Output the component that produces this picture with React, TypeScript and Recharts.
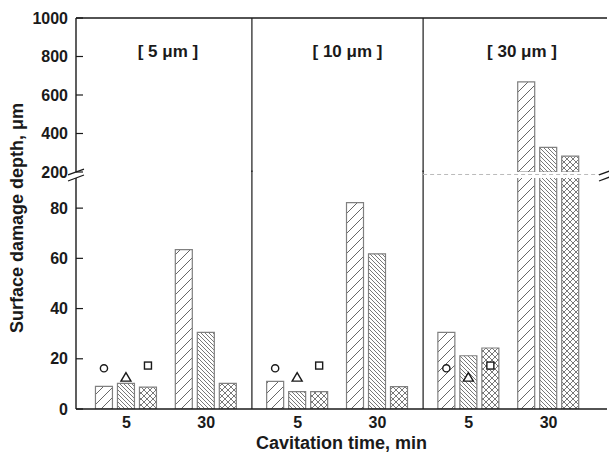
import { ComposedChart, Bar, XAxis, YAxis, ReferenceLine, ReferenceArea } from "recharts";

const panels = ["[ 5 μm ]", "[ 10 μm ]", "[ 30 μm ]"];
const times = [5, 30];

// surface damage depth (μm) per panel: [5 min, 30 min]
const hatchA = [[9, 63.5], [11, 82.2], [30.5, 668]];
const hatchB = [[10.2, 30.5], [6.9, 61.8], [21.2, 328]];
const hatchC = [[8.7, 10.2], [6.9, 8.9], [24.3, 282]];

// open symbols, 5 min only
const circleMark = [16.2, 16.2, 16.2];
const triangleMark = [12.5, 12.5, 12.5];
const squareMark = [17.3, 17.3, 17.3];

const lowTicks = [0, 20, 40, 60, 80];
const highTicks = [200, 400, 600, 800, 1000];

const LOW_MAX = 92;
const HIGH_MIN = 200;
const HIGH_MAX = 1000;

const PANEL_STEP = 2.144;
const X_MIN = -0.631;
const X_MAX = 2 * PANEL_STEP + 1.731;
const DIV1 = (1 + PANEL_STEP) / 2;
const DIV2 = PANEL_STEP + DIV1;
const panelBounds = [[X_MIN, DIV1], [DIV1, DIV2], [DIV2, X_MAX]];
const titleShift = [4, 10, 7];

const INK = "#1a1a1a";
const FONT = "'Liberation Sans', Arial, sans-serif";

const rows = panels.flatMap((_, p) =>
  times.map((t, g) => ({
    pos: p * PANEL_STEP + g,
    time: t,
    a: hatchA[p][g],
    b: hatchB[p][g],
    c: hatchC[p][g],
    ma: g === 0 ? circleMark[p] : null,
    mb: g === 0 ? triangleMark[p] : null,
    mc: g === 0 ? squareMark[p] : null,
  }))
);
const highRows = rows.map((r) => ({
  pos: r.pos,
  a: r.a >= HIGH_MIN ? r.a : null,
  b: r.b >= HIGH_MIN ? r.b : null,
  c: r.c >= HIGH_MIN ? r.c : null,
}));
const positions = rows.map((r) => r.pos);

function Patterns({ id }: { id: string }) {
  return (
    <defs>
      <pattern id={`${id}-a`} patternUnits="userSpaceOnUse" width={10} height={10}>
        <path d="M0,10 L10,0 M-2,2 L2,-2 M8,12 L12,8" stroke="#555" strokeWidth={0.9} />
      </pattern>
      <pattern id={`${id}-b`} patternUnits="userSpaceOnUse" width={4} height={4}>
        <path d="M0,0 L4,4 M-1,3 L1,5 M3,-1 L5,1" stroke="#555" strokeWidth={0.8} />
      </pattern>
      <pattern id={`${id}-c`} patternUnits="userSpaceOnUse" width={6} height={6}>
        <path d="M0,0 L6,6 M0,6 L6,0 M-1,5 L1,7 M5,-1 L7,1 M-1,1 L1,-1 M5,7 L7,5" stroke="#555" strokeWidth={0.8} />
      </pattern>
    </defs>
  );
}

const LeftTick = (props: any) => {
  const { x, y, payload } = props;
  return (
    <g>
      <line x1={x} x2={x + 7} y1={y} y2={y} stroke={INK} strokeWidth={1.2} />
      <text x={x - 8} y={y} dy={5.6} textAnchor="end" fontSize={16} fontWeight="bold" fontFamily={FONT} fill={INK}>
        {payload.value}
      </text>
    </g>
  );
};

const RightTick = (props: any) => {
  const { x, y } = props;
  return <line x1={x - 9} x2={x} y1={y} y2={y} stroke={INK} strokeWidth={1.2} />;
};

const marker = (kind: string) => (props: any) => {
  const { x, y, width, value } = props;
  if (value == null || width == null) return <g />;
  const cx = x + width / 2;
  const cy = y;
  if (kind === "circle") return <circle cx={cx} cy={cy} r={3.6} fill="#fff" stroke={INK} strokeWidth={1.4} />;
  if (kind === "triangle")
    return <polygon points={`${cx},${cy - 5} ${cx - 5},${cy + 3.5} ${cx + 5},${cy + 3.5}`} fill="#fff" stroke={INK} strokeWidth={1.4} />;
  return <rect x={cx - 3.5} y={cy - 3.5} width={7} height={7} fill="#fff" stroke={INK} strokeWidth={1.4} />;
};

const barStyle = { stroke: "#808080", strokeWidth: 1.2 };

export default function App() {
  return (
    <div style={{ position: "absolute", left: 0, top: 0, width: 609, height: 458, background: "#fff", fontFamily: FONT }}>
      <div style={{ position: "absolute", left: 0, top: 0 }}>
        <ComposedChart width={609} height={458} data={rows} margin={{ top: 178, right: 2, bottom: 0, left: 16 }} barSize={17} barGap={5}>
          <Patterns id="lo" />
          <XAxis
            type="number"
            dataKey="pos"
            domain={[X_MIN, X_MAX]}
            ticks={positions}
            interval={0}
            allowDataOverflow
            height={49}
            tickLine={false}
            axisLine={{ stroke: INK, strokeWidth: 1.4 }}
            tickFormatter={(_v: number, i: number) => String(times[i % 2])}
            tick={{ fontSize: 16, fontWeight: "bold", fill: INK, fontFamily: FONT }}
            label={{ value: "Cavitation time, min", position: "insideBottom", offset: 9, fontSize: 18, fontWeight: "bold", fill: INK, fontFamily: FONT }}
          />
          <XAxis xAxisId="m" type="number" dataKey="pos" domain={[X_MIN, X_MAX]} ticks={positions} allowDataOverflow hide />
          <YAxis
            yAxisId="l"
            type="number"
            domain={[0, LOW_MAX]}
            ticks={lowTicks}
            interval={0}
            allowDataOverflow
            width={60}
            tickSize={0}
            tickMargin={0}
            tickLine={false}
            axisLine={{ stroke: INK, strokeWidth: 1.4 }}
            tick={<LeftTick />}
            label={{
              content: () => (
                <text
                  x={0}
                  y={0}
                  transform="translate(17,218) rotate(-90)"
                  dy={6}
                  textAnchor="middle"
                  fontSize={18}
                  fontWeight="bold"
                  fontFamily={FONT}
                  fill={INK}
                >
                  Surface damage depth, μm
                </text>
              ),
            }}
          />
          <YAxis
            yAxisId="r"
            orientation="right"
            type="number"
            domain={[0, LOW_MAX]}
            ticks={lowTicks}
            interval={0}
            allowDataOverflow
            width={0}
            tickSize={0}
            tickMargin={0}
            tickLine={false}
            axisLine={{ stroke: INK, strokeWidth: 1.4 }}
            tick={<RightTick />}
          />
          <Bar yAxisId="l" dataKey="a" fill="url(#lo-a)" {...barStyle} isAnimationActive={false} />
          <Bar yAxisId="l" dataKey="b" fill="url(#lo-b)" {...barStyle} isAnimationActive={false} />
          <Bar yAxisId="l" dataKey="c" fill="url(#lo-c)" {...barStyle} isAnimationActive={false} />
          <Bar xAxisId="m" yAxisId="l" dataKey="ma" shape={marker("circle")} isAnimationActive={false} />
          <Bar xAxisId="m" yAxisId="l" dataKey="mb" shape={marker("triangle")} isAnimationActive={false} />
          <Bar xAxisId="m" yAxisId="l" dataKey="mc" shape={marker("square")} isAnimationActive={false} />
          {[DIV1, DIV2].map((d) => (
            <ReferenceLine
              key={d}
              yAxisId="l"
              segment={[{ x: d, y: 0 }, { x: d, y: LOW_MAX + 3 }]}
              stroke={INK}
              strokeWidth={1.2}
              ifOverflow="visible"
            />
          ))}
          <ReferenceLine
            yAxisId="l"
            segment={[{ x: DIV2, y: 93.4 }, { x: X_MAX - 0.1, y: 93.4 }]}
            stroke="#bbbbbb"
            strokeDasharray="4 3"
            ifOverflow="visible"
          />
          {[X_MIN, X_MAX].map((e) => (
            <ReferenceLine
              key={e}
              yAxisId="l"
              segment={[{ x: e - 0.1, y: LOW_MAX - 1.2 }, { x: e + 0.1, y: LOW_MAX + 1.2 }]}
              stroke={INK}
              strokeWidth={1.3}
              ifOverflow="visible"
            />
          ))}
        </ComposedChart>
      </div>
      <div style={{ position: "absolute", left: 0, top: 0 }}>
        <ComposedChart width={609} height={180} data={highRows} margin={{ top: 18, right: 2, bottom: 8, left: 16 }} barSize={17} barGap={5}>
          <Patterns id="hi" />
          <XAxis type="number" dataKey="pos" domain={[X_MIN, X_MAX]} ticks={positions} allowDataOverflow hide />
          <YAxis
            yAxisId="l"
            type="number"
            domain={[HIGH_MIN, HIGH_MAX]}
            ticks={highTicks}
            interval={0}
            allowDataOverflow
            width={60}
            tickSize={0}
            tickMargin={0}
            tickLine={false}
            axisLine={{ stroke: INK, strokeWidth: 1.4 }}
            tick={<LeftTick />}
          />
          <YAxis
            yAxisId="r"
            orientation="right"
            type="number"
            domain={[HIGH_MIN, HIGH_MAX]}
            ticks={highTicks}
            interval={0}
            allowDataOverflow
            width={0}
            tickSize={0}
            tickMargin={0}
            tickLine={false}
            axisLine={{ stroke: INK, strokeWidth: 1.4 }}
            tick={<RightTick />}
          />
          <Bar yAxisId="l" dataKey="a" fill="url(#hi-a)" {...barStyle} isAnimationActive={false} />
          <Bar yAxisId="l" dataKey="b" fill="url(#hi-b)" {...barStyle} isAnimationActive={false} />
          <Bar yAxisId="l" dataKey="c" fill="url(#hi-c)" {...barStyle} isAnimationActive={false} />
          <ReferenceLine yAxisId="l" y={HIGH_MAX} stroke={INK} strokeWidth={1.4} />
          {[DIV1, DIV2].map((d) => (
            <ReferenceLine key={d} yAxisId="l" x={d} stroke={INK} strokeWidth={1.2} />
          ))}
          {panels.map((title, p) => (
            <ReferenceArea
              key={title}
              yAxisId="l"
              x1={panelBounds[p][0]}
              x2={panelBounds[p][1]}
              fill="none"
              stroke="none"
              label={{
                content: (lp: any) => {
                  const vb = lp.viewBox || {};
                  return (
                    <text
                      x={vb.x + vb.width / 2 + titleShift[p]}
                      y={57}
                      textAnchor="middle"
                      fontSize={17}
                      fontWeight="bold"
                      fontFamily={FONT}
                      fill={INK}
                    >
                      {title}
                    </text>
                  );
                },
              }}
            />
          ))}
          {[X_MIN, X_MAX].map((e) => (
            <ReferenceLine
              key={e}
              yAxisId="l"
              segment={[{ x: e - 0.1, y: HIGH_MIN - 15 }, { x: e + 0.1, y: HIGH_MIN + 15 }]}
              stroke={INK}
              strokeWidth={1.3}
              ifOverflow="visible"
            />
          ))}
        </ComposedChart>
      </div>
    </div>
  );
}
